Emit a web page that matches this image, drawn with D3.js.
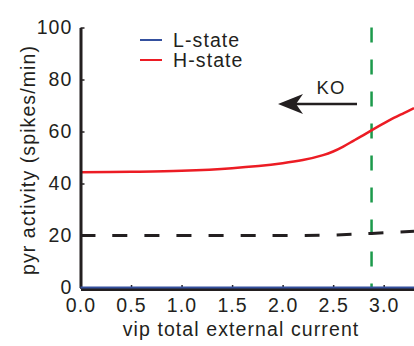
<!DOCTYPE html>
<html>
<head>
<meta charset="utf-8">
<script src="https://cdn.jsdelivr.net/npm/d3@7"></script>
<style>
  body { margin: 0; background: #fff; }
  svg { display: block; font-family: "Liberation Sans", Arial, sans-serif; }
  text { letter-spacing: 1.1px; }
</style>
</head>
<body>
<div id="chart"></div>
<script>
// values
const xTicks = [0, 0.5, 1.0, 1.5, 2.0, 2.5, 3.0];
const yTicks = [0, 20, 40, 60, 80, 100];
const hX = [0, 0.5, 1.0, 1.5, 2.0, 2.2, 2.4, 2.5, 2.6, 2.7, 2.8, 2.9, 3.0, 3.1, 3.2, 3.3];
const hY = [44.3, 44.5, 44.9, 45.9, 47.8, 49.0, 50.9, 52.3, 54.2, 56.4, 58.6, 60.9, 63.1, 65.2, 67.1, 69.0];
const lX = [0, 3.3];
const lY = [0, 0];
const refX = [0, 2.0, 2.5, 2.88, 3.3];
const refY = [20, 20, 20.2, 20.8, 21.6];
const koX = 2.88;
const legend = [{ name: 'L-state', color: '#34509e' }, { name: 'H-state', color: '#ec1c24' }];

const W = 414, H = 346;
const svg = d3.select('#chart').append('svg').attr('width', W).attr('height', H);
const x = d3.scaleLinear().domain([0, 3.3]).range([80.5, 414]);
const y = d3.scaleLinear().domain([0, 100]).range([287.5, 27.5]);
const ink = '#231f20';
const fs = 19.5;

const line = d3.line().x(d => x(d[0])).y(d => y(d[1])).curve(d3.curveCatmullRom);

// ko marker
svg.append('line')
  .attr('x1', x(koX)).attr('x2', x(koX)).attr('y1', y(100)).attr('y2', y(0))
  .attr('stroke', '#1c9a4b').attr('stroke-width', 2.5).attr('stroke-dasharray', '15,17');

// reference dashed
svg.append('path').datum(d3.zip(refX, refY)).attr('d', line)
  .attr('fill', 'none').attr('stroke', ink).attr('stroke-width', 3).attr('stroke-dasharray', '15,17');

svg.append('path').datum(d3.zip(hX, hY)).attr('d', line)
  .attr('fill', 'none').attr('stroke', legend[1].color).attr('stroke-width', 2.5);

// axes
const xAxis = svg.append('g').attr('transform', `translate(0,${y(0) + 1.5})`)
  .call(d3.axisBottom(x).tickValues(xTicks).tickFormat(d3.format('.1f')).tickSizeInner(-4).tickSizeOuter(0).tickPadding(9));
const yAxis = svg.append('g').attr('transform', `translate(${x(0)},0)`)
  .call(d3.axisLeft(y).tickValues(yTicks).tickSizeInner(-4).tickSizeOuter(0).tickPadding(8));
[xAxis, yAxis].forEach(g => {
  g.select('.domain').attr('stroke', ink).attr('stroke-width', 3);
  g.selectAll('.tick line').attr('stroke', ink).attr('stroke-width', 1.5);
  g.selectAll('.tick text').attr('fill', ink).attr('font-size', fs).attr('font-family', '"Liberation Sans", Arial, sans-serif');
});
yAxis.selectAll('.tick text').attr('dy', '0.32em');

svg.append('path').datum(d3.zip(lX, lY)).attr('d', line)
  .attr('fill', 'none').attr('stroke', legend[0].color).attr('stroke-width', 2);

// axis titles
svg.append('text').attr('x', 241).attr('y', 336).attr('text-anchor', 'middle')
  .attr('font-size', fs).attr('fill', ink).text('vip total external current');
svg.append('text').attr('transform', 'translate(35,160) rotate(-90)').attr('text-anchor', 'middle')
  .attr('font-size', fs).attr('fill', ink).text('pyr activity (spikes/min)');

// legend
legend.forEach((d, i) => {
  const ly = 40 + i * 20;
  svg.append('line').attr('x1', 140).attr('x2', 162).attr('y1', ly).attr('y2', ly)
    .attr('stroke', d.color).attr('stroke-width', 2);
  svg.append('text').attr('x', 173).attr('y', ly).attr('dy', '0.35em')
    .attr('font-size', fs).attr('fill', ink).text(d.name);
});

// KO arrow
svg.append('defs').append('marker').attr('id', 'head')
  .attr('viewBox', '0 0 25 20').attr('refX', 13).attr('refY', 10)
  .attr('markerWidth', 25).attr('markerHeight', 20).attr('markerUnits', 'userSpaceOnUse').attr('orient', 'auto')
  .append('path').attr('d', 'M0,0 L25,10 L0,20 L7,10 Z').attr('fill', ink);
svg.append('line').attr('x1', 357).attr('x2', 290).attr('y1', 104).attr('y2', 104)
  .attr('stroke', ink).attr('stroke-width', 2.5).attr('marker-end', 'url(#head)');
svg.append('text').attr('x', 331).attr('y', 94).attr('text-anchor', 'middle')
  .attr('font-size', 18.5).attr('fill', ink).text('KO');
</script>
</body>
</html>
